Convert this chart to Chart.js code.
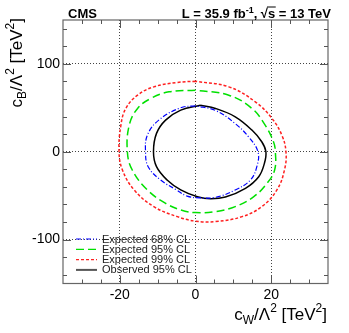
<!DOCTYPE html>
<html><head><meta charset="utf-8">
<script src="https://cdn.jsdelivr.net/npm/chart.js@4"></script>
<style>html,body{margin:0;padding:0;background:#fff;}#wrap{width:349px;height:333px;}</style>
</head><body><div id="wrap"><canvas id="c" width="349" height="333"></canvas></div>
<script>
// ---- data ----
const exp68X = [0, -4, -9.7, -12.7, -13.2, -12.5, -9.2, -5, -2.2, 1, 5.3, 10.5, 14.5, 16.2, 16.5, 14, 10.5, 5.3, 0];
const exp68Y = [52.3, 50, 36, 19, 0, -17, -32.2, -43.5, -50.5, -52.5, -51.9, -43.5, -32.2, -17, 0, 17, 32, 47, 52.3];
const exp95X = [0, -7, -11.8, -15.3, -17.5, -18, -16.7, -12.7, -7.9, -3.9, 0, 5.3, 10.5, 15.4, 18.9, 20.9, 21.1, 20.6, 18.4, 14.9, 8.8, 0];
const exp95Y = [70.1, 68.2, 60.7, 49.3, 30.3, 0, -20.8, -43.5, -58.7, -66.3, -69.3, -68.2, -62.5, -51.1, -35.9, -20.8, 0, 11.4, 30.3, 49.3, 64.4, 70.1];
const exp99X = [0, -4.8, -11, -15.3, -18.4, -19.7, -20.2, -19.3, -16.2, -11, -4.8, 0, 5.3, 12.3, 17.5, 21.5, 23.5, 23.9, 22.8, 20.2, 15.8, 8.8, 0];
const exp99Y = [80.3, 78.9, 73.9, 64.4, 49.3, 30.3, 0, -20.8, -43.5, -62.5, -73.9, -79, -79.5, -73.9, -62.5, -43.5, -20.8, 0, 19, 37.9, 56.8, 73.9, 80.3];
const obs95X = [1.3, -3.9, -7.9, -10.3, -11.1, -10.3, -7.5, -3.9, 0.5, 4, 7.9, 13.2, 16.7, 18.2, 18.6, 17.5, 14.9, 10.5, 5.3, 1.3];
const obs95Y = [53, 47.4, 36, 20.9, 0, -17, -32.2, -43.5, -51.3, -53.5, -51.5, -41.6, -28.4, -13.2, 0, 11.4, 24.7, 39.8, 49.3, 53];

const seriesNames = ['Expected 68% CL', 'Expected 95% CL', 'Expected 99% CL', 'Observed 95% CL'];
const xTickLabels = [-20, 0, 20];
const yTickLabels = [-100, 0, 100];
const xTickMarks = [-30, -25, -20, -15, -10, -5, 0, 5, 10, 15, 20, 25, 30];
const yTickMarks = [-140, -120, -100, -80, -60, -40, -20, 0, 20, 40, 60, 80, 100, 120, 140];
const xRange = [-35, 35];
const yRange = [-150, 150];

const FAM = '"Liberation Sans", Arial, Helvetica, sans-serif';
Chart.defaults.font.family = FAM;

function pts(xs, ys) { return xs.map((x, i) => ({x: x, y: ys[i]})); }

const styles = [
  {borderColor: '#0000ff', borderDash: [5, 2, 1, 2], borderWidth: 1.2, legendColor: '#0000ff', legendWidth: 1.2},
  {borderColor: '#00e000', borderDash: [8, 4], borderWidth: 1.5, legendColor: '#00e000', legendWidth: 1.2},
  {borderColor: '#ff2020', borderDash: [3, 2], borderWidth: 1.5, legendColor: '#ff2020', legendWidth: 1.2},
  {borderColor: '#000000', borderDash: [], borderWidth: 1.5, legendColor: '#555555', legendWidth: 2}
];
const dataSets = [pts(exp68X, exp68Y), pts(exp95X, exp95Y), pts(exp99X, exp99Y), pts(obs95X, obs95Y)];

function drawRich(ctx, pieces, x, y, align) {
  let w = 0;
  for (const p of pieces) { ctx.font = p.font; p.w = ctx.measureText(p.t).width; w += p.w; }
  let cx = align === 'right' ? x - w : x;
  ctx.textBaseline = 'alphabetic'; ctx.textAlign = 'left';
  for (const p of pieces) {
    ctx.font = p.font;
    ctx.fillText(p.t, cx, y + (p.dy || 0));
    if (p.over) { ctx.beginPath(); ctx.lineWidth = 1; ctx.moveTo(cx - 1, y - 10.5); ctx.lineTo(cx + p.w + 0.5, y - 10.5); ctx.stroke(); }
    cx += p.w;
  }
  return w;
}

const decor = {
  id: 'decor',
  afterDatasetsDraw(chart) {
    const ctx = chart.ctx, a = chart.chartArea, xs = chart.scales.x, ys = chart.scales.y;
    ctx.save();
    // frame
    ctx.strokeStyle = '#666'; ctx.lineWidth = 1.2; ctx.setLineDash([]);
    ctx.strokeRect(a.left, a.top, a.right - a.left, a.bottom - a.top);
    // inward tick marks on all sides
    ctx.beginPath(); ctx.lineWidth = 1; ctx.strokeStyle = '#555';
    for (const v of xTickMarks) {
      const px = Math.round(xs.getPixelForValue(v)) + 0.5;
      const L = xTickLabels.includes(v) ? 8 : 4;
      ctx.moveTo(px, a.bottom); ctx.lineTo(px, a.bottom - L);
      ctx.moveTo(px, a.top); ctx.lineTo(px, a.top + L);
    }
    for (const v of yTickMarks) {
      const py = Math.round(ys.getPixelForValue(v)) + 0.5;
      const L = yTickLabels.includes(v) ? 8 : 4;
      ctx.moveTo(a.left, py); ctx.lineTo(a.left + L, py);
      ctx.moveTo(a.right, py); ctx.lineTo(a.right - L, py);
    }
    ctx.stroke();

    // legend
    const lx0 = a.left + 13, lx1 = a.left + 34, tx = a.left + 39;
    chart.data.datasets.forEach((ds, i) => {
      const y = a.bottom - 44.5 + i * 10.3;
      ctx.beginPath(); ctx.strokeStyle = ds.legendColor; ctx.lineWidth = ds.legendWidth;
      ctx.setLineDash(ds.borderDash); ctx.moveTo(lx0, y); ctx.lineTo(lx1, y); ctx.stroke();
      ctx.setLineDash([]);
      ctx.fillStyle = '#222'; ctx.font = '11px ' + FAM; ctx.textBaseline = 'middle'; ctx.textAlign = 'left';
      ctx.fillText(ds.label, tx, y + 0.5);
    });

    // header
    ctx.fillStyle = '#000'; ctx.strokeStyle = '#000';
    const B = 'bold 13px ' + FAM, Bs = 'bold 9px ' + FAM;
    drawRich(ctx, [{t: 'CMS', font: B}], a.left + 5, 17.5, 'left');
    drawRich(ctx, [
      {t: 'L = 35.9 fb', font: B}, {t: '-1', font: Bs, dy: -5}, {t: ', ', font: B},
      {t: '\u221A', font: B}, {t: 's', font: B, over: true}, {t: ' = 13 TeV', font: B}
    ], a.right + 3, 17.5, 'right');

    // axis titles
    const T = '17px ' + FAM, S = '12px ' + FAM;
    drawRich(ctx, [
      {t: 'c', font: T}, {t: 'W', font: S, dy: 4}, {t: '/\u039B', font: T}, {t: '2', font: S, dy: -8},
      {t: ' [TeV', font: T}, {t: '2', font: S, dy: -8}, {t: ']', font: T}
    ], a.right - 1, 320, 'right');
    ctx.save();
    ctx.translate(22, a.top - 2); ctx.rotate(-Math.PI / 2);
    drawRich(ctx, [
      {t: 'c', font: T}, {t: 'B', font: S, dy: 4}, {t: '/\u039B', font: T}, {t: '2', font: S, dy: -8},
      {t: ' [TeV', font: T}, {t: '2', font: S, dy: -8}, {t: ']', font: T}
    ], 0, 0, 'right');
    ctx.restore();
    ctx.restore();
  }
};

new Chart(document.getElementById('c'), {
  type: 'scatter',
  data: {
    datasets: dataSets.map((d, i) => Object.assign({
      label: seriesNames[i], data: d, showLine: true, pointRadius: 0, pointHoverRadius: 0,
      fill: false, tension: 0.4
    }, styles[i]))
  },
  options: {
    responsive: false, animation: false, devicePixelRatio: 1,
    layout: {padding: {left: 0, top: 20, right: 21, bottom: 0}},
    plugins: {legend: {display: false}, tooltip: {enabled: false}, title: {display: false}},
    scales: {
      x: {
        type: 'linear', min: xRange[0], max: xRange[1],
        afterBuildTicks: s => { s.ticks = xTickLabels.map(v => ({value: v})); },
        afterFit: s => { s.height = 49.5; },
        ticks: {font: {size: 14}, color: '#000', padding: 3, maxRotation: 0, autoSkip: false,
                callback: v => String(v)},
        grid: {color: '#444', lineWidth: 1, drawTicks: false},
        border: {display: false, dash: [1, 2]}
      },
      y: {
        type: 'linear', min: yRange[0], max: yRange[1],
        afterBuildTicks: s => { s.ticks = yTickLabels.map(v => ({value: v})); },
        afterFit: s => { s.width = 63; },
        ticks: {font: {size: 14}, color: '#000', padding: 3, autoSkip: false,
                callback: v => String(v)},
        grid: {color: '#444', lineWidth: 1, drawTicks: false},
        border: {display: false, dash: [1, 2]}
      }
    }
  },
  plugins: [decor]
});
</script></body></html>
